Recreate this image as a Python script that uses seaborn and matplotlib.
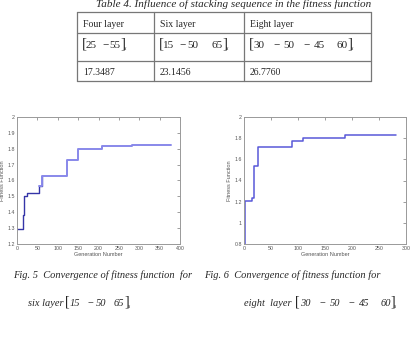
import matplotlib
matplotlib.use("Agg")
import matplotlib.pyplot as plt
import pandas as pd
import seaborn as sns

# Table data
table_title = "Table 4. Influence of stacking sequence in the fitness function"
table_headers = ["Four layer", "Six layer", "Eight layer"]
table_sequences = [["25", "\u221255"],
                   ["15", "\u221250", "65"],
                   ["30", "\u221250", "\u221245", "60"]]
table_values = ["17.3487", "23.1456", "26.7760"]

# Fig. 5 - six layer convergence (step points)
six_gen = [0, 14, 15.5, 18, 25, 55, 62, 122, 150, 209, 283, 377]
six_fit = [1.293, 1.30, 1.383, 1.504, 1.52, 1.565, 1.63, 1.73, 1.80, 1.815, 1.821, 1.821]
six_split = 6  # dark part ends at this index (inclusive)

# Fig. 6 - eight layer convergence
eight_gen = [0, 1.5, 14, 18.5, 26.5, 88, 110, 178, 187, 281]
eight_fit = [0.8, 1.21, 1.23, 1.54, 1.72, 1.776, 1.80, 1.805, 1.83, 1.83]

caption_lines = ["Fig. 5  Convergence of fitness function  for",
                 "Fig. 6  Convergence of fitness function for"]
caption_prefix = ["six layer", "eight  layer"]
caption_seqs = [["15", "\u221250", "65"], ["30", "\u221250", "\u221245", "60"]]

sns.set_style("white")
plt.rcParams["font.family"] = ["Liberation Sans", "DejaVu Sans"]

W, H = 416, 341
fig = plt.figure(figsize=(W / 100, H / 100), dpi=100)
renderer = fig.canvas.get_renderer()

# background axes in pixel coordinates for table and captions
bg = fig.add_axes([0, 0, 1, 1])
bg.set_xlim(0, W)
bg.set_ylim(H, 0)
bg.axis("off")
serif = "Liberation Serif"


def put(x, y, s, **kw):
    t = bg.text(x, y, s, family=serif, va="baseline", **kw)
    bb = t.get_window_extent(renderer)
    return bg.transData.inverted().transform((bb.x1, bb.y0))[0]


def seq_text(x, y, nums, fs, br_fs, gaps, style="normal"):
    # [a  -b  c]_s with tall brackets
    gap_num, gap_minus, after_minus = gaps
    put(x, y - 1, "[", fontsize=br_fs)
    x += 4.5
    for i, n in enumerate(nums):
        if n.startswith("\u2212"):
            if i:
                x += gap_minus
            x = put(x, y, "\u2212", fontsize=fs)
            x += after_minus
            n = n[1:]
        elif i:
            x += gap_num
        x = put(x, y, n, fontsize=fs, style=style)
    put(x - 0.3, y - 1, "]", fontsize=br_fs)
    put(x + 3.6, y + 2, "s", fontsize=fs * 0.55, style="italic")


bg.text(234, 7, table_title, family=serif, style="italic", fontsize=8, ha="center", va="baseline")

col_x = [77, 154, 244, 371]
row_y = [12, 33, 61, 81]
for y in row_y:
    bg.plot([col_x[0], col_x[-1]], [y, y], color="#777777", lw=0.9)
for x in col_x:
    bg.plot([x, x], [row_y[0], row_y[-1]], color="#777777", lw=0.9)

cell_gaps = [(12, 5, 1.5), (13, 5, 2), (12, 9, 4)]
for i in range(3):
    x0 = col_x[i] + 6
    bg.text(x0, 27, table_headers[i], family=serif, fontsize=7, va="baseline")
    seq_text(col_x[i] + 4.5, 48, table_sequences[i], 8, 11, cell_gaps[i])
    bg.text(x0, 75, table_values[i], family=serif, fontsize=7, va="baseline")

put(13, 278, caption_lines[0], fontsize=7.5, style="italic")
put(204, 278, caption_lines[1], fontsize=7.5, style="italic")
xe = put(28, 306, caption_prefix[0], fontsize=7.5, style="italic")
seq_text(xe + 2, 306, caption_seqs[0], 7.5, 10, (8, 7, 2), style="italic")
xe = put(244, 306, caption_prefix[1], fontsize=7.5, style="italic")
seq_text(xe + 4, 306, caption_seqs[1], 7.5, 10, (11, 9, 4), style="italic")


def style_axes(ax, xmax, ymin, ymax):
    ax.set_xlim(0, xmax)
    ax.set_ylim(ymin, ymax)
    ax.tick_params(direction="in", length=2, width=0.5, labelsize=3.8, labelcolor="#555555",
                   top=True, right=True, pad=1.5, color="#777777")
    for sp in ax.spines.values():
        sp.set_color("#999999")
        sp.set_linewidth(0.7)
    ax.set_xlabel("Generation Number", fontsize=4, color="#555555", labelpad=1)
    ax.set_ylabel("Fitness Function", fontsize=4, color="#555555", labelpad=2)


# Fig. 5
ax1 = fig.add_axes([17 / W, (H - 244) / H, 163 / W, 127 / H])
df6 = pd.DataFrame({"gen": six_gen, "fit": six_fit})
sns.lineplot(data=df6.iloc[:six_split + 1], x="gen", y="fit", ax=ax1,
             drawstyle="steps-post", color="#3535a8", lw=1.0)
sns.lineplot(data=df6.iloc[six_split - 1:], x="gen", y="fit", ax=ax1,
             drawstyle="steps-post", color="#8888ea", lw=1.4)
style_axes(ax1, 400, 1.2, 2.0)
ax1.set_xticks(range(0, 401, 50))
ax1.set_yticks([1.2 + 0.1 * i for i in range(9)])
ax1.set_yticklabels(["1.2", "1.3", "1.4", "1.5", "1.6", "1.7", "1.8", "1.9", "2"])

# Fig. 6
ax2 = fig.add_axes([244 / W, (H - 244) / H, 162 / W, 127 / H])
df8 = pd.DataFrame({"gen": eight_gen, "fit": eight_fit})
sns.lineplot(data=df8, x="gen", y="fit", ax=ax2, drawstyle="steps-post", color="#5858d8", lw=1.1)
style_axes(ax2, 300, 0.8, 2.0)
ax2.set_xticks(range(0, 301, 50))
ax2.set_yticks([0.8, 1.0, 1.2, 1.4, 1.6, 1.8, 2.0])
ax2.set_yticklabels(["0.8", "1", "1.2", "1.4", "1.6", "1.8", "2"])

fig.savefig("out.png", dpi=100)
